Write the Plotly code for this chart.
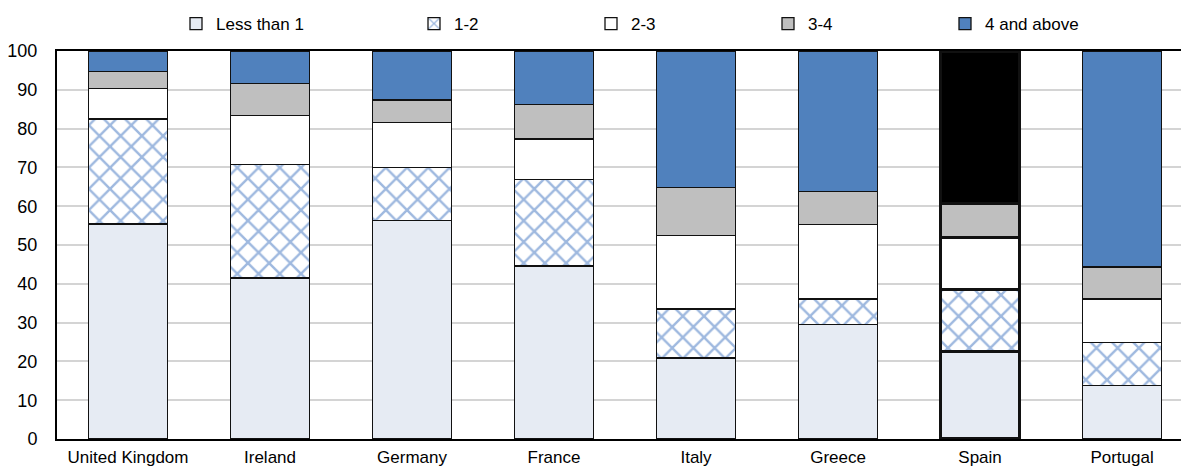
import plotly.graph_objects as go

countries = ["United Kingdom", "Ireland", "Germany", "France", "Italy", "Greece", "Spain", "Portugal"]
less_than_1 = [55.4, 41.5, 56.4, 44.6, 20.9, 29.6, 22.5, 13.7]
one_two = [27.1, 29.2, 13.5, 22.2, 12.6, 6.5, 16.1, 11.2]
two_three = [7.8, 12.6, 11.7, 10.5, 18.9, 19.2, 13.4, 11.2]
three_four = [4.4, 8.4, 5.8, 9.0, 12.4, 8.5, 8.8, 8.2]
four_above = [5.3, 8.3, 12.6, 13.7, 35.2, 36.2, 39.2, 55.7]
series_names = ["Less than 1", "1-2", "2-3", "3-4", "4 and above"]
highlight = "Spain"

FONT = "Liberation Sans, Arial, sans-serif"
line_w = [3.2 if c == highlight else 1.3 for c in countries]
line_c = "#111111"

fig = go.Figure()
BW = 0.556

fig.add_trace(go.Bar(x=countries, y=less_than_1, name=series_names[0], width=BW,
                     marker=dict(color="#e6ebf3", line=dict(color=line_c, width=line_w)),
                     legend="legend"))
fig.add_trace(go.Bar(x=countries, y=one_two, name=series_names[1], width=BW,
                     marker=dict(color="white", line=dict(color=line_c, width=line_w),
                                 pattern=dict(shape="x", fgcolor="#3f73c0", bgcolor="white",
                                              size=15, solidity=0.3)),
                     legend="legend2"))
fig.add_trace(go.Bar(x=countries, y=two_three, name=series_names[2], width=BW,
                     marker=dict(color="white", line=dict(color=line_c, width=line_w)),
                     legend="legend2"))
fig.add_trace(go.Bar(x=countries, y=three_four, name=series_names[3], width=BW,
                     marker=dict(color="#bfbfbf", line=dict(color=line_c, width=line_w)),
                     legend="legend2"))
fig.add_trace(go.Bar(x=countries, y=four_above, name=series_names[4], width=BW,
                     marker=dict(color=["black" if c == highlight else "#5081bd" for c in countries],
                                 line=dict(color=line_c, width=line_w)),
                     legend="legend2"))

LY = (439 - 24) / 388
fig.update_layout(
    barmode="stack",
    showlegend=True,
    width=1181, height=466,
    margin=dict(l=57, r=0, t=51, b=27, autoexpand=False),
    paper_bgcolor="white", plot_bgcolor="white",
    font=dict(family=FONT, size=17, color="black"),
    legend=dict(orientation="h", x=(196 - 20 - 57) / 1124, xanchor="left",
                y=LY, yanchor="middle", traceorder="normal",
                font=dict(family=FONT, size=17), bgcolor="rgba(0,0,0,0)"),
    legend2=dict(orientation="h", x=(434 - 20 - 57) / 1124, xanchor="left",
                 y=LY, yanchor="middle", traceorder="normal",
                 entrywidth=132, entrywidthmode="pixels",
                 font=dict(family=FONT, size=17), bgcolor="rgba(0,0,0,0)"),
    xaxis=dict(range=[-0.5, 7.415], showline=True, linecolor="black", linewidth=2,
               mirror=True, ticks="", showgrid=False, tickfont=dict(size=17),
               automargin=False, ticklabelstandoff=2),
    yaxis=dict(range=[0, 100], dtick=10, showline=True, linecolor="black", linewidth=2,
               showgrid=True, gridcolor="#d4d4d4", gridwidth=1.5, ticks="",
               ticklabelstandoff=14, tickfont=dict(size=18), zeroline=False,
               automargin=False),
)

fig.write_html("out.html", config={"displayModeBar": False},
               post_script="document.body.style.margin='0';")
